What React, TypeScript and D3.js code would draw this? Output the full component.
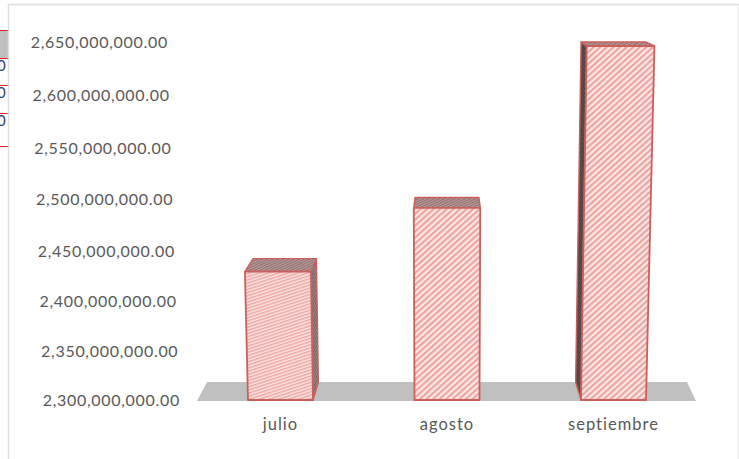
import React from 'react';
import * as d3 from 'd3';

const categories = ['julio', 'agosto', 'septiembre'];
const values = [2427000000, 2490000000, 2650000000];
const tickValues = [2650000000, 2600000000, 2550000000, 2500000000, 2450000000, 2400000000, 2350000000, 2300000000];
const tableRules = [30, 58, 85, 113, 146];

const W = 739, H = 459;
const RED = '#cc5f5b';
const fmt = d3.format(',.2f');

// front plane of the bars
const y = d3.scaleLinear().domain([2300000000, 2650000000]).range([400, 46]);
// the axis labels sit on the slightly foreshortened back plane
const labelY = d3.scaleLinear()
  .domain([2300000000, 2350000000, 2400000000, 2450000000, 2500000000, 2550000000, 2600000000, 2650000000])
  .range([400, 351, 301, 251, 199, 148, 95, 42]);
const labelX = d3.scaleLinear().domain([400, 42]).range([180, 168]);
const x = d3.scalePoint<string>().domain(categories).range([280.5, 613.5]);
const barW = 65;
const CX = 447;

// perspective helpers
const lean = (px: number, py: number) => px + 1.2e-4 * (px - CX) * (400 - py);
const depthDx = (px: number) => -(px - CX) * 0.04;
const depthDy = (py: number) => 18 - 0.0397 * (400 - py);
const pts = (p: number[][]) => p.map(d => d.join(',')).join(' ');

const Hatch = ({ id, angle, bg, fg, size, stroke }: any) => (
  <pattern id={id} width={size} height={size} patternUnits="userSpaceOnUse" patternTransform={`rotate(${angle})`}>
    <rect width={size} height={size} fill={bg} />
    <rect width={size} height={stroke} fill={fg} />
  </pattern>
);

export default function App() {
  const floorFront = 401, floorBack = 382;
  return (
    <svg width={W} height={H} style={{ position: 'absolute', left: 0, top: 0, background: '#fff' }}>
      <defs>
        <Hatch id="h0" angle={-18} bg="#fbe6e5" fg="#eda5a2" size={3} stroke={1.5} />
        <Hatch id="h1" angle={-42} bg="#fce8e7" fg="#eda5a2" size={4.4} stroke={2.2} />
        <Hatch id="h2" angle={-42} bg="#fce8e7" fg="#eda5a2" size={4.4} stroke={2.2} />
        <Hatch id="topA" angle={-25} bg="#c09a9a" fg="#8b7272" size={2.2} stroke={1.1} />
        <Hatch id="sideR" angle={-60} bg="#a08888" fg="#6f6464" size={2.2} stroke={1.1} />
        <Hatch id="sideL" angle={-60} bg="#6a5555" fg="#3f3d3d" size={2.2} stroke={1.1} />
      </defs>

      {/* cut-off table at the left edge */}
      <rect x={0} y={tableRules[0]} width={8} height={tableRules[1] - tableRules[0]} fill="#bfbfbf" />
      {tableRules.map(r => <line key={r} x1={0} x2={8} y1={r + 0.5} y2={r + 0.5} stroke="#f02020" strokeWidth={1} />)}
      {tableRules.slice(1, 4).map((r, i) => (
        <text key={i} x={-3} y={r + 13} fontFamily="Lato" fontSize={15} fill="#30406a">0</text>
      ))}

      {/* chart frame */}
      <rect x={8.5} y={4.5} width={W} height={H} fill="#fff" stroke="#dedede" strokeWidth={1.5} />
      <line x1={738} x2={738} y1={5} y2={H} stroke="#e4e4e4" />

      {/* floor */}
      <polygon points={pts([[197, floorFront], [207, floorBack], [687, floorBack], [696, floorFront]])} fill="#c0c0c0" />

      {tickValues.map(t => {
        const ly = labelY(t);
        return (
          <text key={t} x={labelX(ly)} y={ly + 5.5} textAnchor="end" fontFamily="Lato" fontSize={16} letterSpacing={0.7} fill="#595959">{fmt(t)}</text>
        );
      })}

      {categories.map((c, i) => {
        const cx = x(c)!;
        const x0 = cx - barW / 2, x1 = cx + barW / 2;
        const top = y(values[i]);
        const fl = [lean(x0, top), top], fr = [lean(x1, top), top];
        const bl = [x0, 400], br = [x1, 400];
        const back = (p: number[]) => [p[0] + depthDx(p[0]), p[1] - depthDy(p[1])];
        const showRight = i === 0, showLeft = i === 2;
        return (
          <g key={c} strokeLinejoin="round">
            {showRight && <polygon points={pts([fr, back(fr), back(br), br])} fill="url(#sideR)" stroke={RED} strokeWidth={1.4} />}
            {showLeft && <polygon points={pts([fl, back(fl), back(bl), bl])} fill="url(#sideL)" stroke={RED} strokeWidth={1.4} />}
            <polygon points={pts([fl, back(fl), back(fr), fr])} fill="url(#topA)" stroke={RED} strokeWidth={1.4} />
            <polygon points={pts([fl, fr, br, bl])} fill={`url(#h${i})`} stroke={RED} strokeWidth={1.8} />
            <text x={cx} y={430} textAnchor="middle" fontFamily="Lato" fontSize={16.5} letterSpacing={1} fill="#595959">{c}</text>
          </g>
        );
      })}
    </svg>
  );
}
